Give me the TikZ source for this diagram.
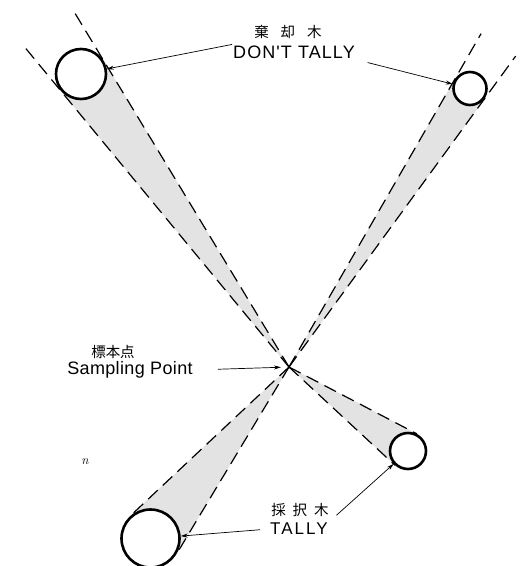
\documentclass[tikz,border=0pt]{standalone}
\usepackage{fontspec}
\newfontfamily\lett[LetterSpace=6]{Liberation Sans}
\newfontfamily\lettb[LetterSpace=12]{Liberation Sans}
\newfontfamily\lettc[LetterSpace=2]{Liberation Sans}
\newfontfamily\cjk{Noto Sans CJK JP}
\usetikzlibrary{calc,arrows.meta}
\begin{document}
\begin{tikzpicture}[x=1pt,y=-1pt,
  tree/.style={circle,draw,line width=2.6pt,fill=white,inner sep=0pt,minimum size=#1},
  tline/.style={line width=1.2pt,dash pattern=on 13pt off 7pt},
  ptr/.style={-{Stealth[length=7pt,width=4pt]},line width=0.7pt},
  stip/.style={fill=black!11},
  jlbl/.style={font=\cjk\fontsize{14.5}{16}\selectfont,inner sep=1pt},
  lblA/.style={font=\lett\fontsize{18}{20}\selectfont,inner sep=1pt},
  lblB/.style={font=\lettb\fontsize{17}{19}\selectfont,inner sep=1pt},
  lblC/.style={font=\lettc\fontsize{18}{20}\selectfont,inner sep=1pt}
]
\useasboundingbox (0,0) rectangle (526,566);
\coordinate (P) at (289,367);
% tree positions (invisible first for tangent computation)
\path (81,74) node[tree=50pt,draw=none,fill=none] (TL) {};
\path (470,88.5) node[tree=33pt,draw=none,fill=none] (TR) {};
\path (408,451) node[tree=36pt,draw=none,fill=none] (BR) {};
\path (150.5,538.5) node[tree=58pt,draw=none,fill=none] (BL) {};
\foreach \t in {TL,TR,BR,BL}{
  \coordinate (\t1) at (tangent cs:node=\t,point={(P)},solution=1);
  \coordinate (\t2) at (tangent cs:node=\t,point={(P)},solution=2);
  \fill[stip] (P) -- (\t1) -- (\t.center) -- (\t2) -- cycle;
  \fill[stip] ($(P)!0.5!(\t1)$) -- (\t1) -- (\t.center) -- (\t2) -- ($(P)!0.5!(\t2)$) -- cycle;
}
% boundary lines
\draw[tline] (P) -- ($(P)!1.17!(TL1)$);
\draw[tline] (P) -- ($(P)!1.17!(TL2)$);
\draw[tline] (P) -- ($(P)!1.16!(TR1)$);
\draw[tline] (P) -- ($(P)!1.16!(TR2)$);
\draw[tline] (P) -- (BR1);
\draw[tline] (P) -- (BR2);
\draw[tline] (P) -- (BL1);
\draw[tline] (P) -- (BL2);
% trees
\node[tree=50pt] at (TL) {};
\node[tree=33pt] at (TR) {};
\node[tree=36pt] at (BR) {};
\node[tree=58pt] at (BL) {};
% labels
\node[jlbl] (j1) at (288,32) {棄\hspace{12pt}却\hspace{12pt}木};
\node[lblA] (dont) at (294,52) {DON'T TALLY};
\node[jlbl] (j2) at (113,352) {標本点};
\node[lblC] (sp) at (130,370) {Sampling Point};
\node[jlbl] (j3) at (300,510) {採\hspace{7pt}択\hspace{7pt}木};
\node[lblB] (tally) at (299,529) {TALLY};
\node[font=\itshape\fontsize{13}{15}\selectfont,inner sep=0pt] (nn) at (85,462) {n};
% pointers
\draw[ptr] (dont.north west) -- (TL);
\draw[ptr,shorten <=12pt] (dont.south east) -- (TR);
\draw[ptr,shorten <=24pt,shorten >=8pt] (sp.east) -- (P);
\draw[ptr,shorten <=9pt] (tally.west) -- (BL);
\draw[ptr,shorten <=10pt] (tally.north east) -- (BR);
\end{tikzpicture}
\end{document}
